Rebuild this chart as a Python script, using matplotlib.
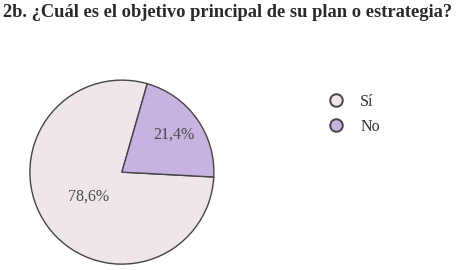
import matplotlib
matplotlib.use('Agg')
import matplotlib.pyplot as plt
from matplotlib.lines import Line2D
import numpy as np

# datos
labels = ['Sí', 'No']
values = [78.6, 21.4]
pct_text = ['78,6%', '21,4%']
colors = ['#EEE6EA', '#C8B2E2']
title = '2b. ¿Cuál es el objetivo principal de su plan o estrategia?'

plt.rcParams['font.family'] = ['Liberation Serif', 'DejaVu Serif']

fig = plt.figure(figsize=(4.6, 2.7), dpi=100)
fig.patch.set_facecolor('white')

fig.text(0.006, 0.985, title, fontsize=13.3, fontweight='bold', color='#2a2a2a',
         ha='left', va='top')

ax = fig.add_axes([0.063, 0.018, 0.404, 0.689])
wedges, _ = ax.pie(values, colors=colors, startangle=74, counterclock=True,
                   wedgeprops=dict(edgecolor='#444444', linewidth=1.0))
ax.set_xlim(-1.01, 1.01)
ax.set_ylim(-1.01, 1.01)
ax.set_aspect('equal')

# etiquetas de porcentaje
label_r = [0.45, 0.70]
for w, t, r in zip(wedges, pct_text, label_r):
    ang = np.deg2rad((w.theta1 + w.theta2) / 2)
    ax.text(r * np.cos(ang), r * np.sin(ang), t, ha='center', va='center',
            fontsize=11.5, color='#4a4a4a')

handles = [Line2D([0], [0], marker='o', linestyle='', markersize=9,
                  markerfacecolor=c, markeredgecolor='#444444', markeredgewidth=1.4)
           for c in colors]
fig.legend(handles, labels, loc='upper left', bbox_to_anchor=(0.665, 0.705),
           frameon=False, fontsize=11.5, handletextpad=0.5, labelspacing=0.55,
           labelcolor='#333333')

plt.savefig('out.png', dpi=100)
plt.close()
